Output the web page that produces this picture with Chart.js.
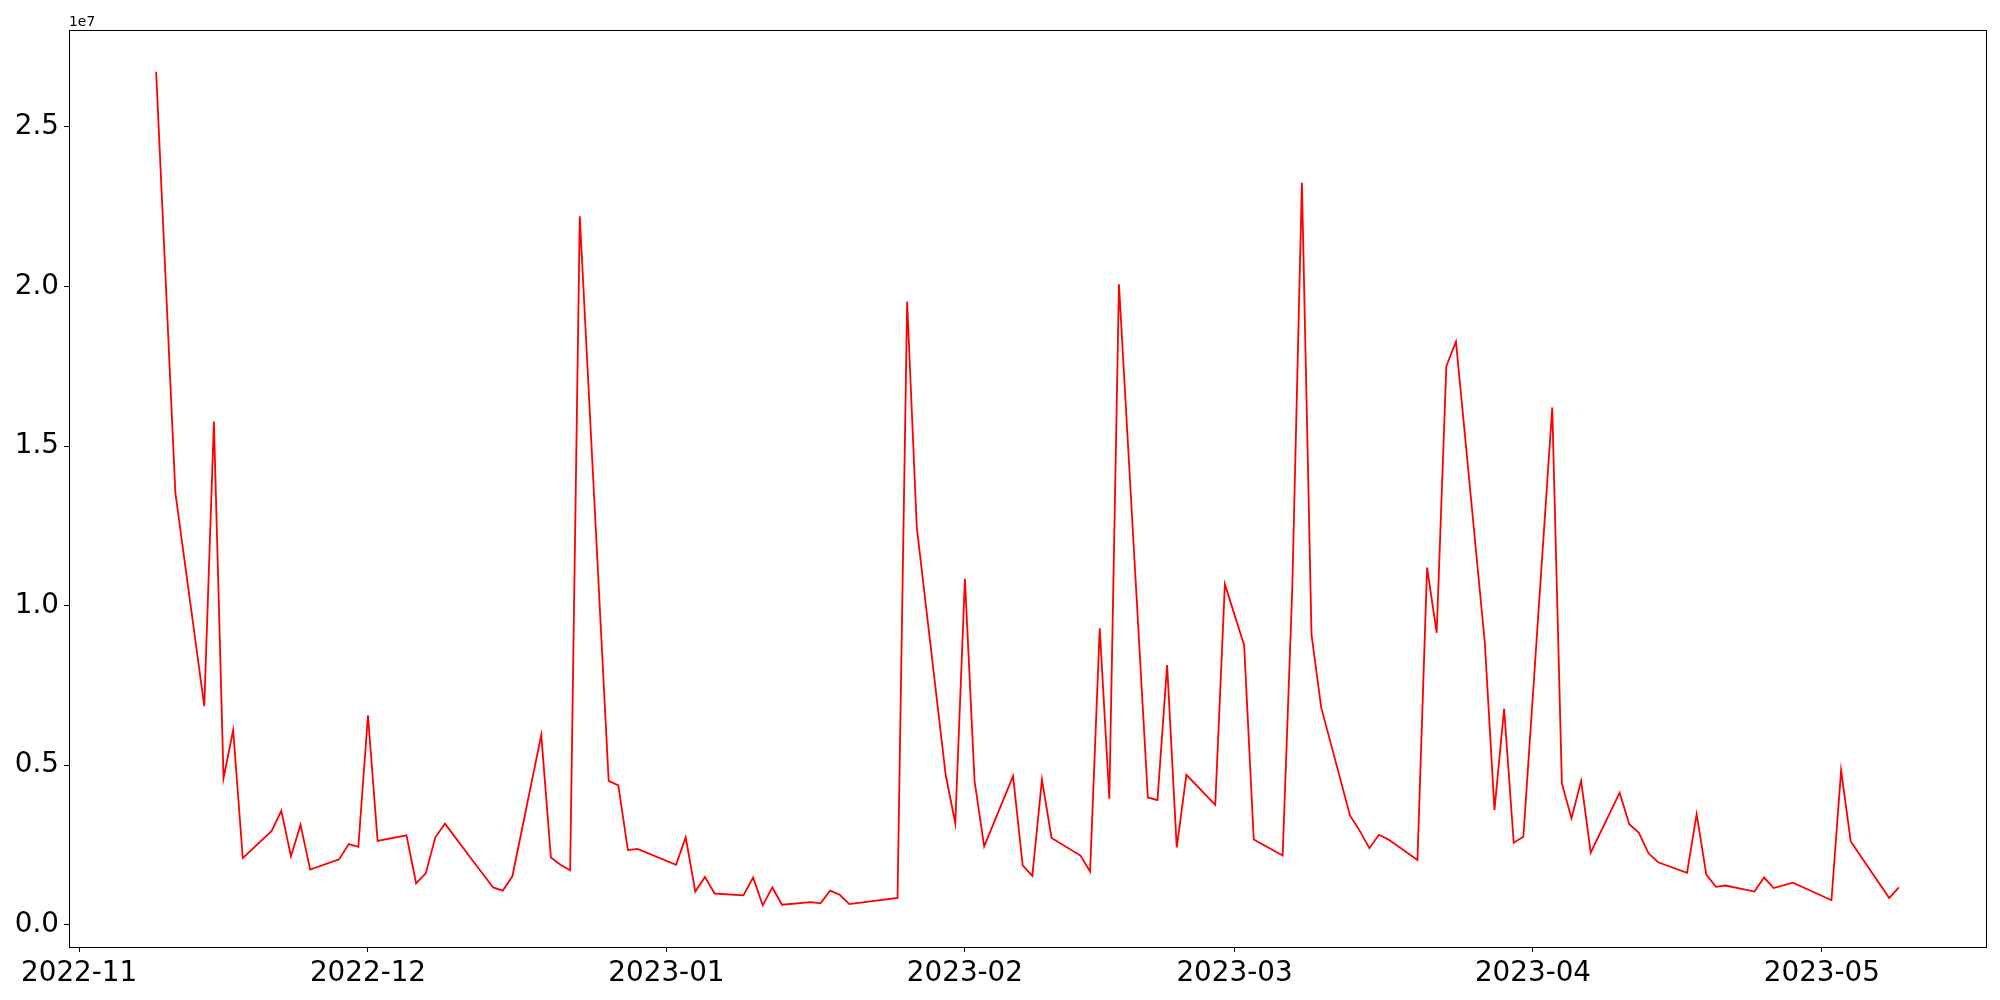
<!DOCTYPE html>
<html>
<head>
<meta charset="utf-8">
<script src="https://cdn.jsdelivr.net/npm/chart.js@4.4.1/dist/chart.umd.min.js"></script>
<style>
html, body { margin: 0; padding: 0; background: #ffffff; }
#wrap { width: 2000px; height: 1000px; }
</style>
</head>
<body>
<div id="wrap"><canvas id="c" width="2000" height="1000"></canvas></div>
<script>
// ---- data ----
const dates = [
  '2022-11-09','2022-11-11','2022-11-14','2022-11-15','2022-11-16','2022-11-17','2022-11-18',
  '2022-11-21','2022-11-22','2022-11-23','2022-11-24','2022-11-25',
  '2022-11-28','2022-11-29','2022-11-30','2022-12-01','2022-12-02',
  '2022-12-05','2022-12-06','2022-12-07','2022-12-08','2022-12-09',
  '2022-12-12','2022-12-13','2022-12-14','2022-12-15','2022-12-16',
  '2022-12-19','2022-12-20','2022-12-21','2022-12-22','2022-12-23',
  '2022-12-26','2022-12-27','2022-12-28','2022-12-29',
  '2023-01-02','2023-01-03','2023-01-04','2023-01-05','2023-01-06',
  '2023-01-09','2023-01-10','2023-01-11','2023-01-12','2023-01-13',
  '2023-01-16','2023-01-17','2023-01-18','2023-01-19','2023-01-20',
  '2023-01-25','2023-01-26','2023-01-27',
  '2023-01-30','2023-01-31','2023-02-01','2023-02-02','2023-02-03',
  '2023-02-06','2023-02-07','2023-02-08','2023-02-09','2023-02-10',
  '2023-02-13','2023-02-14','2023-02-15','2023-02-16','2023-02-17',
  '2023-02-20','2023-02-21','2023-02-22','2023-02-23','2023-02-24',
  '2023-02-27','2023-02-28','2023-03-02','2023-03-03',
  '2023-03-06','2023-03-07','2023-03-08','2023-03-09','2023-03-10',
  '2023-03-13','2023-03-14','2023-03-15','2023-03-16','2023-03-17',
  '2023-03-20','2023-03-21','2023-03-22','2023-03-23','2023-03-24',
  '2023-03-27','2023-03-28','2023-03-29','2023-03-30','2023-03-31',
  '2023-04-03','2023-04-04','2023-04-05','2023-04-06','2023-04-07',
  '2023-04-10','2023-04-11','2023-04-12','2023-04-13','2023-04-14',
  '2023-04-17','2023-04-18','2023-04-19','2023-04-20','2023-04-21',
  '2023-04-24','2023-04-25','2023-04-26','2023-04-28',
  '2023-05-02','2023-05-03','2023-05-04','2023-05-08','2023-05-09'
];
const values = [
  26730000,13530000,6850000,15770000,4590000,6100000,2090000,
  2940000,3570000,2150000,3130000,1730000,
  2050000,2530000,2440000,6560000,2630000,
  2800000,1300000,1610000,2740000,3170000,
  1960000,1570000,1170000,1070000,1520000,
  5950000,2110000,1880000,1710000,22200000,
  4510000,4370000,2340000,2380000,
  1880000,2740000,1040000,1500000,980000,
  920000,1480000,610000,1170000,630000,
  710000,670000,1070000,940000,650000,
  840000,19530000,12450000,
  4700000,3180000,10840000,4510000,2460000,
  4660000,1860000,1530000,4550000,2720000,
  2170000,1670000,9290000,3950000,20070000,
  3990000,3910000,8140000,2420000,4700000,
  3760000,10670000,8760000,2670000,
  2170000,10550000,23250000,9080000,6810000,
  3420000,2950000,2400000,2820000,2670000,
  2030000,11190000,9150000,17500000,18270000,
  8830000,3590000,6770000,2570000,2760000,
  16210000,4430000,3340000,4510000,2260000,
  4140000,3150000,2880000,2240000,1960000,
  1630000,3470000,1570000,1190000,1230000,
  1040000,1480000,1150000,1320000,
  770000,4840000,2610000,840000,1170000
];
const yTickValues = [0, 5000000, 10000000, 15000000, 20000000, 25000000];
const yTickLabels = ['0.0', '0.5', '1.0', '1.5', '2.0', '2.5'];
const xTickLabels = ['2022-11', '2022-12', '2023-01', '2023-02', '2023-03', '2023-04', '2023-05'];
const offsetLabel = '1e7';

// ---- build ----
function toMs(s) {
  const p = s.split('-').map(Number);
  return Date.UTC(p[0], p[1] - 1, p[2] || 1);
}
const points = dates.map((d, i) => ({ x: toMs(d), y: values[i] }));
const xTickValues = xTickLabels.map(toMs);

const xFirst = points[0].x, xLast = points[points.length - 1].x;
const xPad = 0.05 * (xLast - xFirst);
const yMinData = Math.min(...values), yMaxData = Math.max(...values);
const yPad = 0.05 * (yMaxData - yMinData);

const FONT = "'DejaVu Sans', 'Liberation Sans', sans-serif";

const framePlugin = {
  id: 'frame',
  afterDraw(chart) {
    const { ctx, chartArea: a } = chart;
    ctx.save();
    ctx.strokeStyle = '#000000';
    ctx.lineWidth = 1;
    ctx.strokeRect(Math.round(a.left) + 0.5, Math.round(a.top) + 0.5,
                   Math.round(a.right - a.left), Math.round(a.bottom - a.top));
    ctx.fillStyle = '#000000';
    ctx.font = "13.9px " + FONT;
    ctx.textAlign = 'left';
    ctx.textBaseline = 'alphabetic';
    ctx.fillText(offsetLabel, a.left, a.top - 4);
    ctx.restore();
  }
};

new Chart(document.getElementById('c'), {
  type: 'line',
  data: {
    datasets: [{
      data: points,
      borderColor: '#ff0000',
      borderWidth: 1.8,
      pointRadius: 0,
      tension: 0,
      fill: false
    }]
  },
  options: {
    responsive: false,
    animation: false,
    devicePixelRatio: 1,
    layout: { padding: { top: 30, right: 14, left: 0, bottom: 0 } },
    plugins: { legend: { display: false }, tooltip: { enabled: false } },
    scales: {
      x: {
        type: 'linear',
        min: xFirst - xPad,
        max: xLast + xPad,
        border: { display: false },
        grid: { display: true, drawOnChartArea: false, drawTicks: true, tickLength: 5, color: '#000000', lineWidth: 1 },
        ticks: {
          autoSkip: false, maxRotation: 0, minRotation: 0, padding: 5,
          color: '#000000', font: { family: FONT, size: 27.8 },
          callback: (v) => { const i = xTickValues.indexOf(v); return i >= 0 ? xTickLabels[i] : ''; }
        },
        afterBuildTicks: (scale) => { scale.ticks = xTickValues.map(v => ({ value: v })); },
        afterFit: (scale) => { scale.height = 53; }
      },
      y: {
        type: 'linear',
        min: yMinData - yPad,
        max: yMaxData + yPad,
        border: { display: false },
        grid: { display: true, drawOnChartArea: false, drawTicks: true, tickLength: 5, color: '#000000', lineWidth: 1 },
        ticks: {
          autoSkip: false, padding: 5,
          color: '#000000', font: { family: FONT, size: 27.8 },
          callback: (v) => { const i = yTickValues.indexOf(v); return i >= 0 ? yTickLabels[i] : ''; }
        },
        afterBuildTicks: (scale) => { scale.ticks = yTickValues.map(v => ({ value: v })); },
        afterFit: (scale) => { scale.width = 69; }
      }
    }
  },
  plugins: [framePlugin]
});
</script>
</body>
</html>
